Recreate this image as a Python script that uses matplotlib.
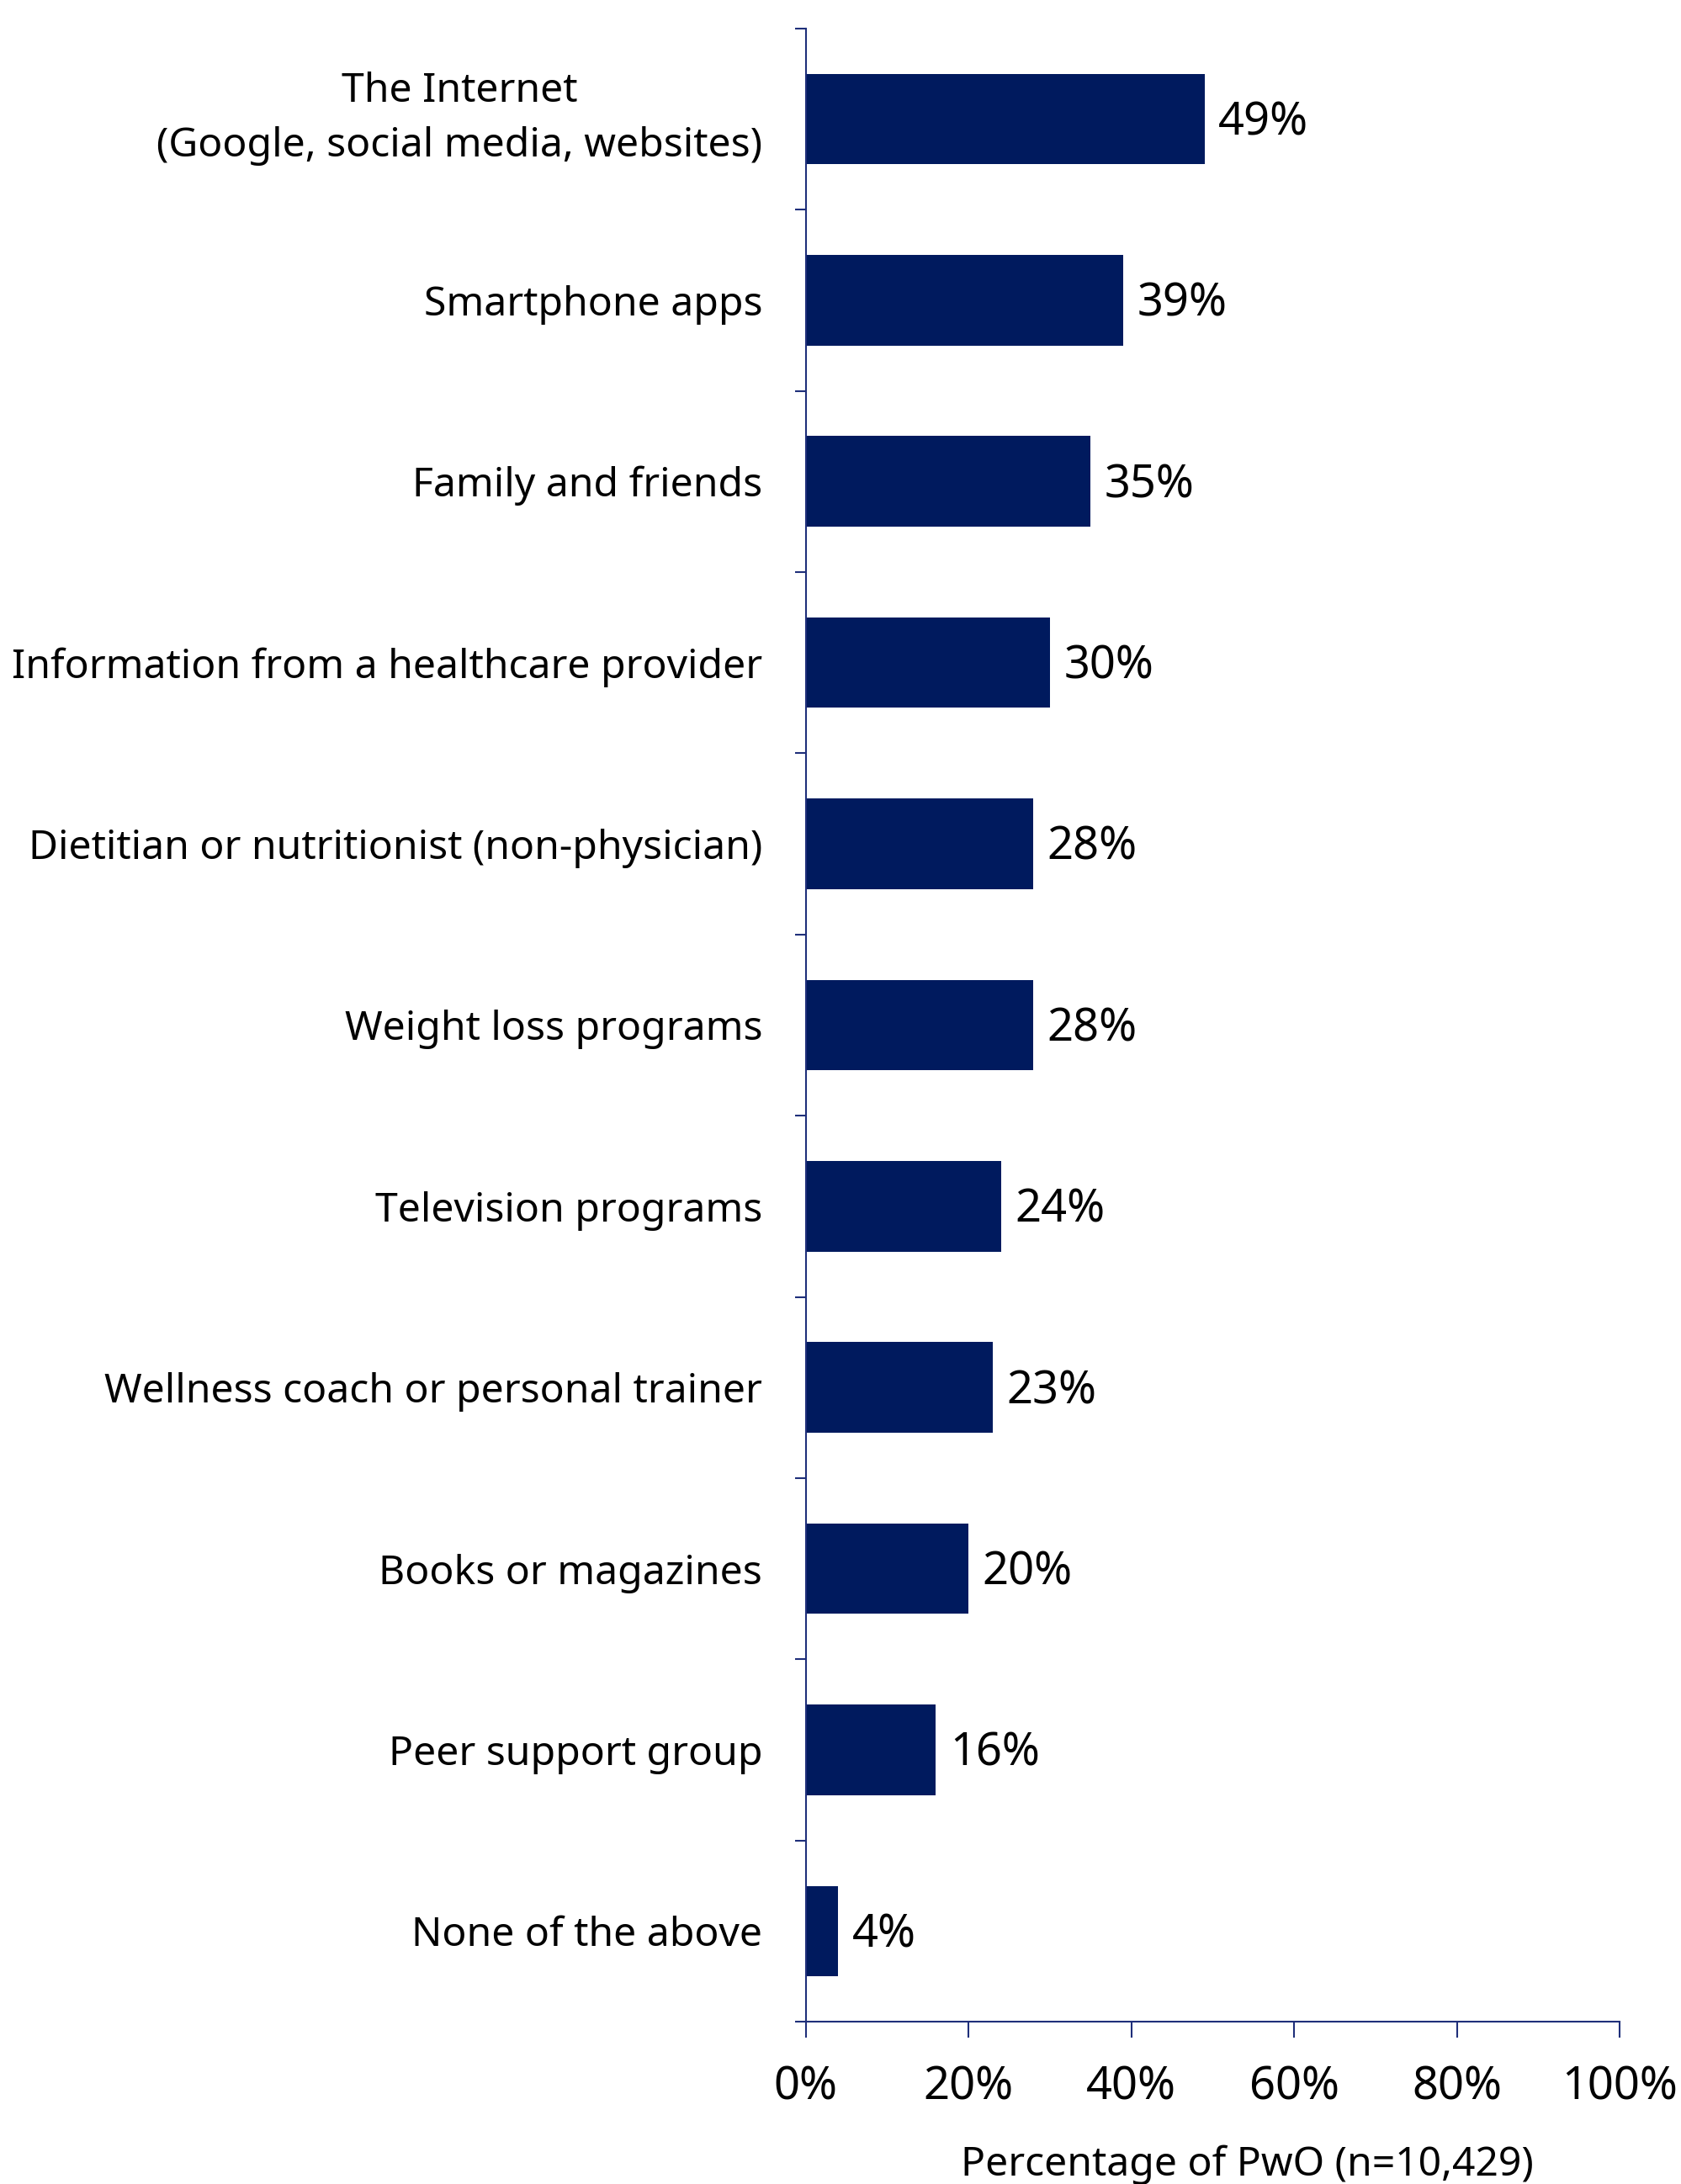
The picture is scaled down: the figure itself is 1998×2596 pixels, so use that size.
import matplotlib
matplotlib.use("Agg")
import matplotlib.pyplot as plt
import numpy as np

categories = ['The Internet\n(Google, social media, websites)', 'Smartphone apps', 'Family and friends',
              'Information from a healthcare provider', 'Dietitian or nutritionist (non-physician)',
              'Weight loss programs', 'Television programs', 'Wellness coach or personal trainer',
              'Books or magazines', 'Peer support group', 'None of the above']
values = [49, 39, 35, 30, 28, 28, 24, 23, 20, 16, 4]
xticks = [0, 20, 40, 60, 80, 100]

navy = '#001a5e'
axis_col = '#1f2f7a'
plt.rcParams['font.family'] = ['Noto Sans', 'DejaVu Sans']

fig = plt.figure(figsize=(19.99, 25.96), dpi=100)
ax = fig.add_axes([0.479, 0.0743, 0.484, 0.9127])

y = np.arange(len(categories))
ax.barh(y, values, height=0.5, color=navy)
for yi, v in zip(y, values):
    ax.text(v + 1.7, yi + 0.02, '{}%'.format(v), va='center', ha='left', fontsize=39)

ax.set_ylim(len(categories) - 0.5, -0.5)
ax.set_xlim(0, 100)
ax.set_yticks(y)
ax.set_yticklabels(categories, fontsize=34.6)
ax.set_yticks(np.arange(-0.5, len(categories)), minor=True)
ax.tick_params(axis='y', which='major', length=0, pad=37)
ax.tick_params(axis='y', which='minor', length=9.5, width=1.5, color=axis_col)
for lab in ax.get_yticklabels():
    lab.set_ha('right')
    lab.set_multialignment('center')
    lab.set_linespacing(1.5)
    if '\n' in lab.get_text():
        lab.set_va('center')

ax.set_xticks(xticks)
ax.set_xticklabels(['{}%'.format(t) for t in xticks], fontsize=39)
ax.tick_params(axis='x', length=14, width=1.5, color=axis_col, pad=22)

for s in ['top', 'right']:
    ax.spines[s].set_visible(False)
for s in ['left', 'bottom']:
    ax.spines[s].set_color(axis_col)
    ax.spines[s].set_linewidth(1.5)

ax.set_xlabel('Percentage of PwO (n=10,429)', fontsize=34.6)
ax.xaxis.set_label_coords(0.542, -0.062)

fig.savefig('out.png', dpi=100)
